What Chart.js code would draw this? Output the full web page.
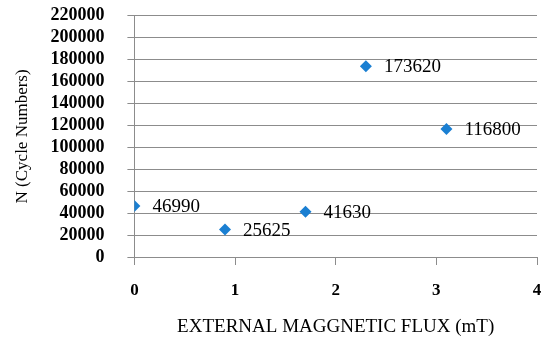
<!DOCTYPE html>
<html>
<head>
<meta charset="utf-8">
<script src="https://cdn.jsdelivr.net/npm/chart.js@4.4.1/dist/chart.umd.min.js"></script>
<style>
  html, body { margin: 0; padding: 0; background: #fff; }
  #wrap { width: 549px; height: 340px; }
</style>
</head>
<body>
<div id="wrap"><canvas id="chart" width="549" height="340"></canvas></div>
<script>
// magnetic flux (mT) vs. cycle numbers
const fluxValues = [0, 0.9, 1.7, 2.3, 3.1];
const cycleNumbers = [46990, 25625, 41630, 173620, 116800];
const xTicks = [0, 1, 2, 3, 4];
const yTicks = [0, 20000, 40000, 60000, 80000, 100000, 120000, 140000, 160000, 180000, 200000, 220000];

const serif = '"Liberation Serif", "Times New Roman", serif';
const gridColor = '#8c8c8c';

// writes the value to the right of each diamond
const pointValueLabels = {
  id: 'pointValueLabels',
  afterDatasetsDraw(chart) {
    const ctx = chart.ctx;
    const meta = chart.getDatasetMeta(0);
    ctx.save();
    ctx.font = '19px ' + serif;
    ctx.fillStyle = '#000';
    ctx.textAlign = 'left';
    ctx.textBaseline = 'middle';
    meta.data.forEach((pt, i) => {
      ctx.fillText(String(cycleNumbers[i]), pt.x + 18, pt.y + 1);
    });
    ctx.restore();
  }
};

const ctx = document.getElementById('chart').getContext('2d');
new Chart(ctx, {
  type: 'scatter',
  data: {
    datasets: [{
      data: fluxValues.map((x, i) => ({ x: x, y: cycleNumbers[i] })),
      pointStyle: 'rectRot',
      pointRadius: 6,
      pointHoverRadius: 6,
      backgroundColor: '#1a7fd2',
      borderColor: '#1a7fd2',
      borderWidth: 0
    }]
  },
  options: {
    responsive: false,
    animation: false,
    layout: { padding: { top: 15, right: 12, left: 12, bottom: 2 } },
    plugins: {
      legend: { display: false },
      tooltip: { enabled: false }
    },
    scales: {
      x: {
        type: 'linear',
        min: 0,
        max: 4,
        afterBuildTicks(axis) { axis.ticks = xTicks.map(v => ({ value: v })); },
        // long tick slot keeps the labels low, the dash shows only a short mark
        grid: {
          drawOnChartArea: false, drawTicks: true, tickLength: 22,
          tickBorderDash: [7, 40], color: gridColor
        },
        border: { color: gridColor, width: 1 },
        ticks: {
          color: '#000',
          padding: 1,
          font: { family: serif, size: 17, weight: 'bold' }
        },
        title: {
          display: true,
          text: 'EXTERNAL MAGGNETIC FLUX (mT)',
          color: '#000',
          font: { family: serif, size: 19 },
          padding: { top: 13, bottom: 0 }
        }
      },
      y: {
        type: 'linear',
        min: 0,
        max: 220000,
        afterBuildTicks(axis) { axis.ticks = yTicks.map(v => ({ value: v })); },
        grid: {
          drawTicks: true, tickLength: 30,
          tickBorderDash: [7, 23], tickBorderDashOffset: 7,
          color: gridColor, lineWidth: 1
        },
        border: { color: gridColor, width: 1 },
        ticks: {
          color: '#000',
          padding: 0,
          autoSkip: false,
          callback: v => String(v),
          font: { family: serif, size: 18, weight: 'bold' }
        },
        title: {
          display: true,
          text: 'N (Cycle Numbers)',
          color: '#000',
          font: { family: serif, size: 17 },
          padding: { top: 0, bottom: 18 }
        }
      }
    }
  },
  plugins: [pointValueLabels]
});
</script>
</body>
</html>
